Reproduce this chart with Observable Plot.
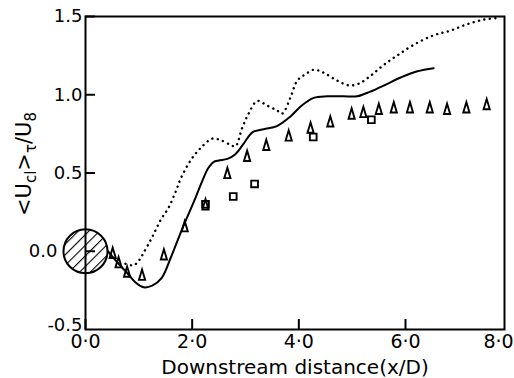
<!DOCTYPE html>
<html><head><meta charset="utf-8">
<script src="https://cdn.jsdelivr.net/npm/d3@7"></script>
<script src="https://cdn.jsdelivr.net/npm/@observablehq/plot@0.6"></script>
<style>body{margin:0;background:#fff} svg{display:block}</style>
</head><body><div id="chart"></div>
<script>
// Measured data (triangles)
const triX = [0.51, 0.62, 0.78, 1.06, 1.47, 1.86, 2.25, 2.66, 3.03, 3.39, 3.81, 4.22, 4.59, 4.99, 5.21, 5.50, 5.78, 6.09, 6.49, 6.84, 7.23, 7.64];
const triY = [-0.01, -0.07, -0.13, -0.15, -0.02, 0.16, 0.30, 0.50, 0.61, 0.68, 0.74, 0.79, 0.83, 0.88, 0.89, 0.91, 0.92, 0.92, 0.92, 0.91, 0.92, 0.94];
// Measured data (squares)
const sqX = [2.25, 2.77, 3.17, 4.27, 5.36];
const sqY = [0.30, 0.35, 0.43, 0.73, 0.84];
// Solid curve
const solidX = [0.42, 0.62, 0.81, 0.94, 1.09, 1.25, 1.43, 1.60, 1.81, 2.06, 2.19, 2.30, 2.40, 2.50, 2.66, 2.81, 2.97, 3.13, 3.34, 3.59, 3.84, 4.05, 4.28, 4.53, 4.84, 5.09, 5.34, 5.66, 5.91, 6.24, 6.57];
const solidY = [0.00, -0.08, -0.15, -0.20, -0.23, -0.22, -0.17, -0.04, 0.14, 0.34, 0.45, 0.53, 0.57, 0.58, 0.59, 0.62, 0.69, 0.76, 0.78, 0.80, 0.86, 0.93, 0.98, 0.99, 0.99, 0.99, 1.02, 1.07, 1.11, 1.15, 1.17];
// Dotted curve
const dotX = [0.75, 0.90, 1.00, 1.09, 1.25, 1.41, 1.56, 1.69, 1.78, 1.97, 2.16, 2.38, 2.53, 2.72, 2.81, 2.94, 3.06, 3.22, 3.41, 3.59, 3.69, 3.84, 3.97, 4.12, 4.28, 4.47, 4.72, 4.94, 5.12, 5.34, 5.59, 5.84, 6.17, 6.57, 6.91, 7.24, 7.58, 7.85];
const dotY = [-0.08, -0.09, -0.06, -0.01, 0.09, 0.20, 0.28, 0.38, 0.46, 0.58, 0.66, 0.72, 0.71, 0.68, 0.67, 0.79, 0.88, 0.96, 0.93, 0.90, 0.88, 0.98, 1.09, 1.13, 1.16, 1.14, 1.09, 1.06, 1.07, 1.12, 1.19, 1.25, 1.32, 1.38, 1.41, 1.45, 1.48, 1.49];
// Ticks
const xTicks = [0, 2, 4, 6];
const xLastTick = [8];
const yTicks = [0.5, 1.0, 1.5];
const yBottomTick = [-0.5];
const yZeroTick = [0];
// Cylinder (obstacle) at origin
const obstacle = [{x: 0, y: 0}];

const toPts = (xs, ys) => xs.map((x, i) => ({x, y: ys[i]}));
const tri = toPts(triX, triY);
const sq = toPts(sqX, sqY);
const solid = toPts(solidX, solidY);
const dotted = toPts(dotX, dotY);

const tallTriangle = {
  draw(ctx, size) {
    const r = Math.sqrt(size / Math.PI);
    ctx.moveTo(0, -1.2 * r);
    ctx.lineTo(0.72 * r, 1.2 * r);
    ctx.lineTo(-0.72 * r, 1.2 * r);
    ctx.closePath();
  }
};
const fmtX = d => d.toFixed(1).replace(".", "·");
const fmtY = d => d.toFixed(1);

const plot = Plot.plot({
  width: 514, height: 378,
  marginTop: 16, marginBottom: 49, marginLeft: 85, marginRight: 10,
  style: {fontFamily: "DejaVu Sans", fontSize: "19px", background: "white", color: "black"},
  x: {type: "linear", domain: [0, 6, 8], range: [85, 405, 504]},
  y: {type: "linear", domain: [-0.5, 1.5]},
  marks: [
    Plot.dot(obstacle, {x: "x", y: "y", r: 22, fill: "url(#hatch)", stroke: "black", strokeWidth: 2}),
    Plot.frame({stroke: "black", strokeWidth: 2}),
    Plot.axisX({ticks: xTicks, tickSize: 10, dy: -10, tickPadding: 5, strokeWidth: 2,
      tickFormat: fmtX, label: null}),
    Plot.axisX({ticks: xLastTick, tickSize: 0, dx: -6, tickPadding: 5, strokeWidth: 0,
      tickFormat: fmtX, label: null}),
    Plot.axisY({ticks: yTicks, tickSize: 10, dx: 10, tickPadding: 3, strokeWidth: 2,
      fontSize: 18, tickFormat: fmtY, label: null}),
    Plot.axisY({ticks: yBottomTick, tickSize: 0, dy: -4, tickPadding: 3, strokeWidth: 0,
      fontSize: 18, tickFormat: fmtY, label: null}),
    Plot.axisY({ticks: yZeroTick, tickSize: 10, dx: 10, tickPadding: 28, strokeWidth: 2,
      fontSize: 18, tickFormat: fmtY, label: null}),
    Plot.line(solid, {x: "x", y: "y", curve: "catmull-rom", stroke: "black", strokeWidth: 2}),
    Plot.line(dotted, {x: "x", y: "y", curve: "catmull-rom", stroke: "black", strokeWidth: 2.4,
      strokeDasharray: "0.1 5.4", strokeLinecap: "round"}),
    Plot.dot(tri, {x: "x", y: "y", symbol: tallTriangle, r: 4.3, stroke: "black", strokeWidth: 1.9}),
    Plot.dot(sq, {x: "x", y: "y", symbol: "square", r: 3.8, stroke: "black", strokeWidth: 1.9})
  ]
});

const svg = d3.select(plot);
svg.insert("defs", ":first-child").html(
  '<pattern id="hatch" patternUnits="userSpaceOnUse" width="7.5" height="7.5" patternTransform="rotate(45)">' +
  '<rect width="7.5" height="7.5" fill="white"/>' +
  '<line x1="0" y1="0" x2="0" y2="7.5" stroke="black" stroke-width="2.2"/></pattern>');

// Axis titles
svg.append("text")
  .attr("x", 295).attr("y", 374)
  .attr("text-anchor", "middle")
  .attr("font-family", "DejaVu Sans").attr("font-size", 20).attr("fill", "black")
  .text("Downstream distance(x/D)");

const yt = svg.append("text")
  .attr("transform", "translate(31,164) rotate(-90)")
  .attr("text-anchor", "middle")
  .attr("font-family", "DejaVu Sans").attr("font-size", 21).attr("fill", "black");
yt.append("tspan").text("<U");
yt.append("tspan").attr("dy", 5).attr("font-size", 15).text("cl");
yt.append("tspan").attr("dy", -5).text(">");
yt.append("tspan").attr("dy", 5).attr("font-size", 15).text("τ");
yt.append("tspan").attr("dy", -5).text("/U");
yt.append("tspan").attr("dy", 5).attr("font-size", 15).text("8");

document.getElementById("chart").appendChild(plot);
</script>
</body></html>
